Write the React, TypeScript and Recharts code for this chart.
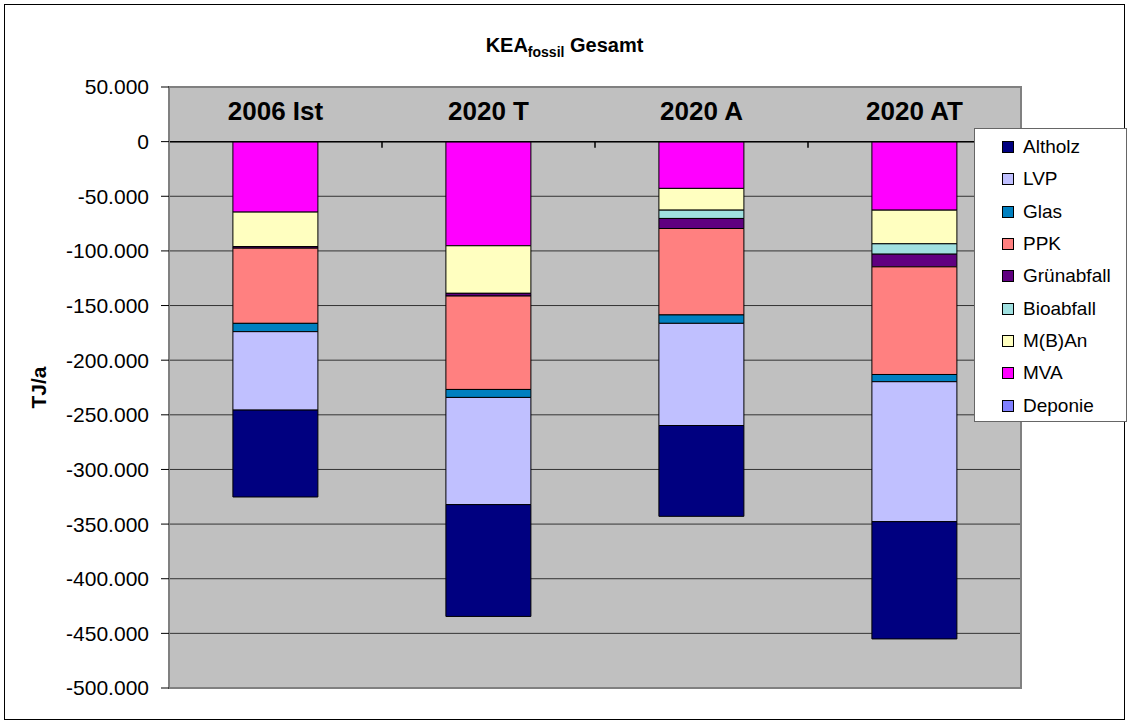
import React from "react"
import {
  Bar,
  BarChart,
  CartesianGrid,
  XAxis,
  YAxis,
  ReferenceLine,
  ReferenceArea,
} from "recharts"

// Szenarien
const categories = ["2006 Ist", "2020 T", "2020 A", "2020 AT"]

// KEA fossil je Fraktion in TJ/a (negativ = Gutschrift)
const mva = [-64500, -95300, -42800, -62700]
const mban = [-31500, -43500, -19900, -30800]
const bioabfall = [0, 0, -7600, -9500]
const gruenabfall = [-1500, -2500, -9200, -11600]
const ppk = [-68800, -85500, -79100, -98500]
const glas = [-7600, -7300, -7700, -6600]
const lvp = [-71800, -98100, -93500, -128100]
const altholz = [-79500, -102300, -83100, -107300]
const deponie = [0, 0, 0, 0]

const yTicks = [50000, 0, -50000, -100000, -150000, -200000, -250000, -300000, -350000, -400000, -450000, -500000]

// draw order = stacking order from 0 downwards
const series = [
  { key: "MVA", values: mva, color: "#FF00FF" },
  { key: "M(B)An", values: mban, color: "#FFFFC0" },
  { key: "Bioabfall", values: bioabfall, color: "#A0E0E0" },
  { key: "Grünabfall", values: gruenabfall, color: "#600080" },
  { key: "PPK", values: ppk, color: "#FF8080" },
  { key: "Glas", values: glas, color: "#0080C0" },
  { key: "LVP", values: lvp, color: "#C0C0FF" },
  { key: "Altholz", values: altholz, color: "#000080" },
  { key: "Deponie", values: deponie, color: "#8080FF" },
]

const legendOrder = ["Altholz", "LVP", "Glas", "PPK", "Grünabfall", "Bioabfall", "M(B)An", "MVA", "Deponie"]

const data = categories.map((name, i) => {
  const row: Record<string, string | number> = { name }
  series.forEach(s => { row[s.key] = s.values[i] })
  return row
})

const fmt = (v: number) => {
  const s = Math.abs(v).toString().replace(/\B(?=(\d{3})+(?!\d))/g, ".")
  return v < 0 ? "-" + s : s
}

const font = "'Liberation Sans', Arial, sans-serif"

export default function App() {
  return (
    <div style={{ position: "absolute", left: 0, top: 0, width: 1129, height: 724, background: "#fff", fontFamily: font }}>
      <div style={{ position: "absolute", left: 4, top: 4, width: 1119, height: 714, border: "1px solid #000" }} />
      <div style={{ position: "absolute", left: 0, top: 34, width: 1129, textAlign: "center", fontSize: 20, fontWeight: "bold", lineHeight: "23px" }}>
        KEA<span style={{ fontSize: 14, position: "relative", top: 5 }}>fossil</span> Gesamt
      </div>
      <div style={{ position: "absolute", left: 0, top: 0 }}>
        <BarChart
          width={1129}
          height={724}
          data={data}
          margin={{ top: 47, right: 108, bottom: 36, left: 20 }}
          barCategoryGap="30%"
        >
          <CartesianGrid vertical={false} stroke="#333" fill="#C0C0C0" fillOpacity={1} />
          <ReferenceArea y1={50000} y2={-500000} fill="none" stroke="#808080" strokeWidth={2} ifOverflow="visible" />
          <XAxis
            dataKey="name"
            orientation="top"
            height={40}
            axisLine={false}
            tickLine={false}
            tickSize={0}
            tickMargin={0}
            interval={0}
            tick={(p: any) => (
              <text
                key={p.payload.value}
                x={p.x}
                y={p.y + 33}
                textAnchor="middle"
                fontSize={26}
                fontWeight="bold"
                fill="#000"
                fontFamily={font}
              >
                {p.payload.value}
              </text>
            )}
          />
          <YAxis
            width={149}
            domain={[-500000, 50000]}
            ticks={yTicks}
            interval={0}
            tickFormatter={fmt}
            tick={{ fill: "#000", fontSize: 21, fontFamily: font }}
            tickSize={8}
            tickMargin={12}
            tickLine={{ stroke: "#000" }}
            axisLine={{ stroke: "#808080", strokeWidth: 2 }}
            label={{
              content: (p: any) => {
                const vb = p.viewBox
                return (
                  <text
                    x={vb.x + 18}
                    y={vb.y + vb.height / 2}
                    transform={`rotate(-90 ${vb.x + 18} ${vb.y + vb.height / 2})`}
                    textAnchor="middle"
                    dominantBaseline="central"
                    fontSize={21}
                    fontWeight="bold"
                    fontFamily={font}
                    fill="#000"
                  >
                    TJ/a
                  </text>
                )
              },
            }}
          />
          {series.map(s => (
            <Bar
              key={s.key}
              dataKey={s.key}
              stackId="a"
              fill={s.color}
              stroke="#000"
              strokeWidth={1}
              isAnimationActive={false}
            />
          ))}
          <ReferenceLine y={0} stroke="#000" strokeWidth={1.5} />
          {categories.slice(0, 3).map(c => (
            <ReferenceLine
              key={c}
              segment={[{ x: c, y: 0 }, { x: c, y: -5500 }]}
              position="end"
              stroke="#000"
              strokeWidth={1.5}
            />
          ))}
        </BarChart>
      </div>
      <div
        style={{
          position: "absolute",
          left: 974,
          top: 128,
          width: 153,
          height: 294,
          background: "#fff",
          border: "1px solid #666",
          boxSizing: "border-box",
          paddingTop: 2,
        }}
      >
        {legendOrder.map(k => {
          const s = series.find(x => x.key === k)!
          return (
            <div key={k} style={{ height: 32.3, display: "flex", alignItems: "center", fontSize: 19, color: "#000" }}>
              <span
                style={{
                  display: "inline-block",
                  width: 10,
                  height: 10,
                  marginLeft: 27,
                  marginRight: 9,
                  background: s.color,
                  border: "1px solid #000",
                }}
              />
              {k}
            </div>
          )
        })}
      </div>
    </div>
  )
}
